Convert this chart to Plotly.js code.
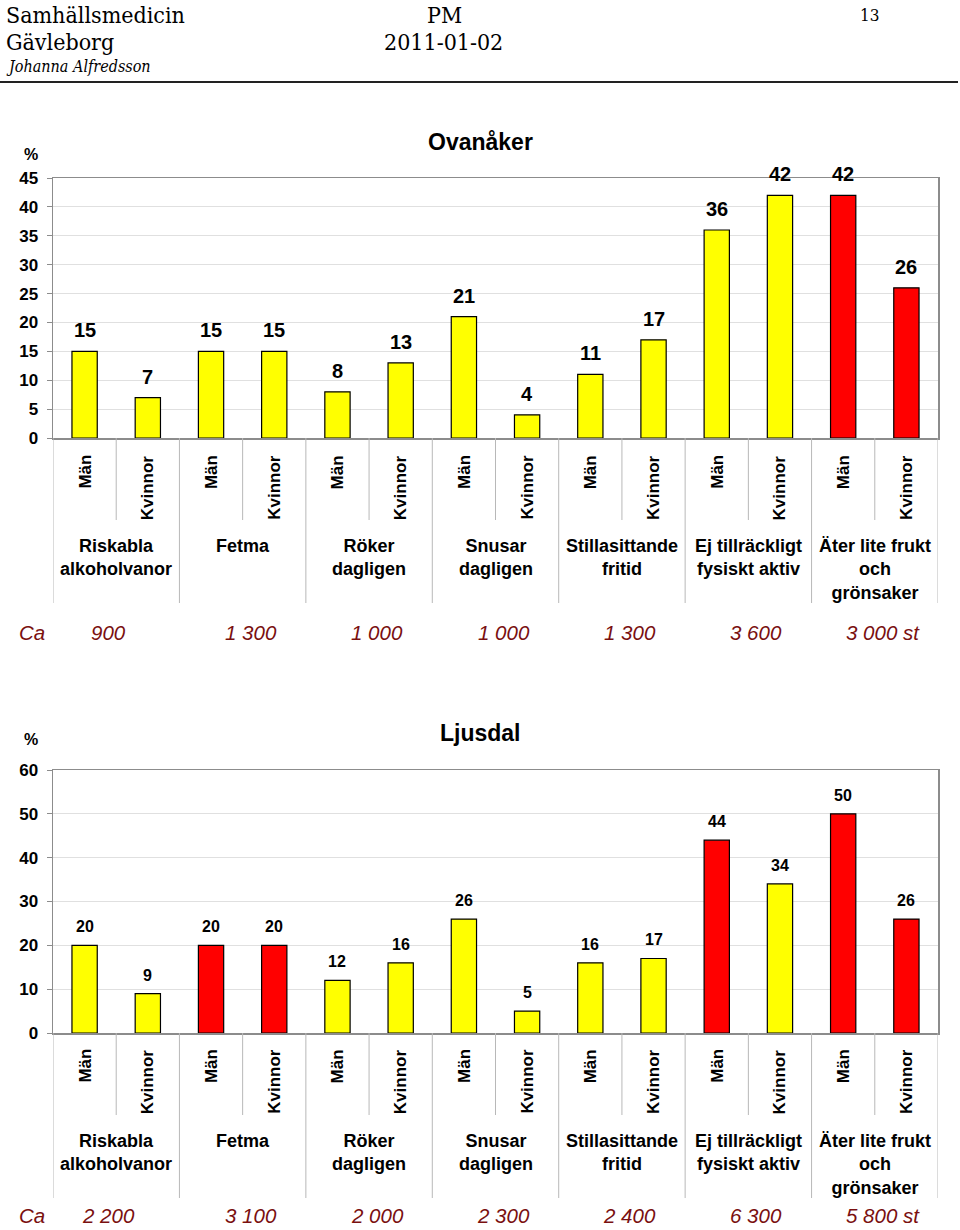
<!DOCTYPE html>
<html>
<head>
<meta charset="utf-8">
<script src="https://cdn.plot.ly/plotly-3.0.1.min.js"></script>
<style>
  html, body { margin: 0; padding: 0; background: #fff; }
  #chart { width: 960px; height: 1230px; }
</style>
</head>
<body>
<div id="chart"></div>
<script>
// ---------- DATA ----------
const groups = [
  ["Riskabla", "alkoholvanor"],
  ["Fetma"],
  ["Röker", "dagligen"],
  ["Snusar", "dagligen"],
  ["Stillasittande", "fritid"],
  ["Ej tillräckligt", "fysiskt aktiv"],
  ["Äter lite frukt", "och", "grönsaker"]
];
const sexes = ["Män", "Kvinnor"];

const ovanakerTitle = "Ovanåker";
const ovanakerValues = [15, 7, 15, 15, 8, 13, 21, 4, 11, 17, 36, 42, 42, 26];
const ovanakerHighlight = [0, 0, 0, 0, 0, 0, 0, 0, 0, 0, 0, 0, 1, 1];
const ovanakerCounts = ["900", "1 300", "1 000", "1 000", "1 300", "3 600", "3 000 st"];

const ljusdalTitle = "Ljusdal";
const ljusdalValues = [20, 9, 20, 20, 12, 16, 26, 5, 16, 17, 44, 34, 50, 26];
const ljusdalHighlight = [0, 0, 1, 1, 0, 0, 0, 0, 0, 0, 1, 0, 1, 1];
const ljusdalCounts = ["2 200", "3 100", "2 000", "2 300", "2 400", "6 300", "5 800 st"];

const ovanakerYTicks = [0, 5, 10, 15, 20, 25, 30, 35, 40, 45];
const ljusdalYTicks = [0, 10, 20, 30, 40, 50, 60];

const header = {
  org1: "Samhällsmedicin", org2: "Gävleborg", author: "Johanna Alfredsson",
  doc: "PM", date: "2011-01-02", page: "13"
};

// ---------- LAYOUT HELPERS ----------
const W = 960, H = 1230;
const PX = p => p / W;
const PY = p => 1 - p / H;
const SANS = "Liberation Sans, Arial, Helvetica, sans-serif";
const SERIF = "DejaVu Serif Condensed, DejaVu Serif, Liberation Serif, serif";
const YELLOW = "#ffff00", RED = "#ff0000";

const nCat = groups.length * sexes.length;
const idx = Array.from({length: nCat}, (_, i) => i);
const subLabels = idx.map(i => sexes[i % 2]);

const charts = [
  {xa: "x", ya: "y", vals: ovanakerValues, hi: ovanakerHighlight, counts: ovanakerCounts,
   title: ovanakerTitle, ticks: ovanakerYTicks, range: [0, 45],
   top: 178, bottom: 438, titleY: 142, pctY: 154, subTop: 453, subEnd: 520, grpEnd: 603,
   grpTop: 534, caY: 632, labelSize: 20, labelShift: 8},
  {xa: "x2", ya: "y2", vals: ljusdalValues, hi: ljusdalHighlight, counts: ljusdalCounts,
   title: ljusdalTitle, ticks: ljusdalYTicks, range: [0, 60],
   top: 770, bottom: 1033, titleY: 733, pctY: 739, subTop: 1047, subEnd: 1115, grpEnd: 1198,
   grpTop: 1129, caY: 1215, labelSize: 16, labelShift: 8}
];

const data = [];
const annotations = [];
const shapes = [];
const layout = {
  width: W, height: H,
  margin: {l: 0, r: 0, t: 0, b: 0},
  paper_bgcolor: "#fff", plot_bgcolor: "#fff",
  showlegend: false,
  font: {family: SANS, color: "#000"},
  annotations, shapes
};

const ann = o => annotations.push(Object.assign({
  showarrow: false, xanchor: "center", yanchor: "middle"
}, o));

charts.forEach((c, k) => {
  const xName = k === 0 ? "xaxis" : "xaxis2";
  const yName = k === 0 ? "yaxis" : "yaxis2";
  layout[xName] = {
    domain: [PX(53), PX(938)], anchor: c.ya, range: [-0.5, nCat - 0.5],
    showticklabels: false, ticks: "", showgrid: false, zeroline: false,
    showline: true, mirror: true, linecolor: "#8c8c8c", linewidth: 1.5, fixedrange: true
  };
  layout[yName] = {
    domain: [PY(c.bottom), PY(c.top)], anchor: c.xa, range: c.range,
    tickvals: c.ticks, ticktext: c.ticks.map(String),
    ticks: "outside", ticklen: 5, tickcolor: "#8c8c8c", ticklabelstandoff: 5,
    tickfont: {family: SANS, size: 17, weight: "bold", color: "#000"},
    showgrid: true, gridcolor: "#e0e0e0", gridwidth: 1, zeroline: false,
    showline: true, mirror: true, linecolor: "#8c8c8c", linewidth: 1.5, fixedrange: true
  };

  data.push({
    type: "bar", x: idx, y: c.vals, xaxis: c.xa, yaxis: c.ya, width: 0.4,
    marker: {color: c.hi.map(h => h ? RED : YELLOW), line: {color: "#000", width: 1.2}},
    hoverinfo: "none"
  });

  // value labels
  c.vals.forEach((v, i) => ann({
    xref: c.xa, yref: c.ya, x: i, y: v, yanchor: "bottom", yshift: c.labelShift,
    text: "<b>" + v + "</b>",
    font: {family: SANS, size: c.labelSize, color: "#000"}
  }));

  // title and % sign
  ann({xref: "paper", yref: "paper", x: PX(480), y: PY(c.titleY),
    text: "<b>" + c.title + "</b>", font: {family: SANS, size: 23}});
  ann({xref: "paper", yref: "paper", x: PX(31), y: PY(c.pctY),
    text: "<b>%</b>", font: {family: SANS, size: 16}});

  // sub labels (Män / Kvinnor)
  subLabels.forEach((s, i) => ann({
    xref: c.xa, yref: "paper", x: i, y: PY(c.subTop), yanchor: "top",
    textangle: -90, text: "<b>" + s + "</b>",
    font: {family: SANS, size: 17, color: "#000"}
  }));

  // group labels
  groups.forEach((g, gi) => ann({
    xref: c.xa, yref: "paper", x: gi * 2 + 0.5, y: PY(c.grpTop), yanchor: "top",
    text: "<b>" + g.join("<br>") + "</b>",
    font: {family: SANS, size: 18, color: "#000"}
  }));

  // separators below the axis
  for (let b = 0; b <= nCat; b++) {
    const isGroup = b % 2 === 0;
    shapes.push({type: "line", xref: c.xa, yref: "paper",
      x0: b - 0.5, x1: b - 0.5, y0: PY(c.bottom), y1: PY(isGroup ? c.grpEnd : c.subEnd),
      line: {color: "#b8b8b8", width: 1}});
  }

  // count row
  ann({xref: "paper", yref: "paper", x: PX(32), y: PY(c.caY),
    text: "<i>Ca</i>", font: {family: SANS, size: 20.5, color: "#7a1010"}});
  c.counts.forEach((t, gi) => ann({
    xref: c.xa, yref: "paper", x: gi * 2 + 0.5, y: PY(c.caY), xshift: gi === 0 ? -8 : 8,
    text: "<i>" + t + "</i>",
    font: {family: SANS, size: 20.5, color: "#7a1010"}
  }));
});

// ---------- HEADER ----------
const hdr = (x, y, text, size, anchor, italic) => ann({
  xref: "paper", yref: "paper", x: PX(x), y: PY(y), xanchor: anchor,
  text: italic ? "<i>" + text + "</i>" : text,
  font: {family: SERIF, size: size, color: "#000"}
});
hdr(4, 15, header.org1, 23, "left");
hdr(4, 42, header.org2, 23, "left");
hdr(4, 67, header.author, 16, "left", true);
hdr(444, 15, header.doc, 23, "center");
hdr(443, 42, header.date, 23, "center");
hdr(869, 15, header.page, 17, "center");
shapes.push({type: "line", xref: "paper", yref: "paper", x0: 0, x1: PX(958),
  y0: PY(82), y1: PY(82), line: {color: "#222", width: 2}});

Plotly.newPlot("chart", data, layout, {displayModeBar: false, staticPlot: true});
</script>
</body>
</html>
